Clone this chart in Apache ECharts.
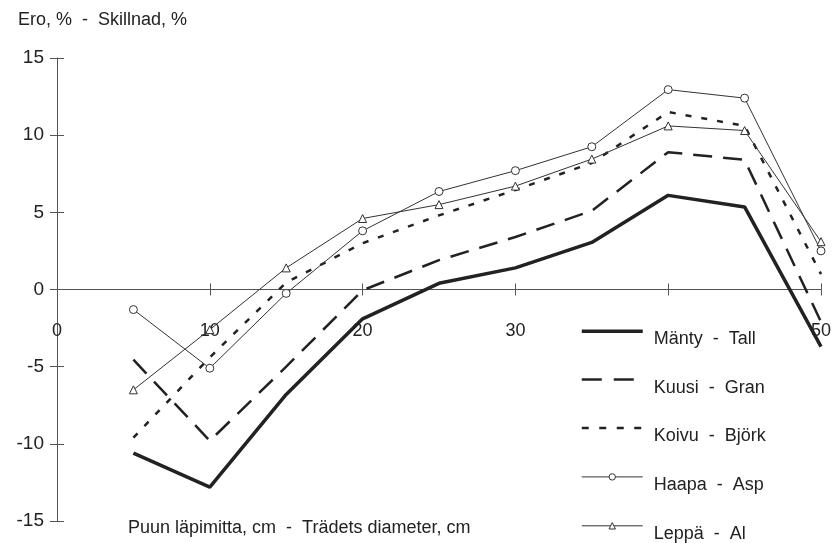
<!DOCTYPE html>
<html>
<head>
<meta charset="utf-8">
<script src="https://cdn.jsdelivr.net/npm/echarts@6/dist/echarts.min.js"></script>
<style>
  html, body { margin: 0; padding: 0; background: #fff; }
  #chart { width: 840px; height: 543px; }
</style>
</head>
<body>
<div id="chart"></div>
<script>
// puun läpimitta, cm
var diameters = [5, 10, 15, 20, 25, 30, 35, 40, 45, 50];
// ero, %
var manty = [-10.6, -12.8, -6.8, -1.9, 0.4, 1.4, 3.05, 6.1, 5.35, -3.7];
var kuusi = [-4.55, -9.8, -5.0, -0.05, 1.9, 3.4, 5.1, 8.9, 8.4, -2.1];
var koivu = [-9.6, -4.4, 0.45, 3.0, 4.8, 6.45, 8.2, 11.5, 10.6, 1.0];
var haapa = [-1.3, -5.1, -0.25, 3.8, 6.35, 7.7, 9.25, 12.95, 12.4, 2.5];
var leppa = [-6.5, -2.6, 1.4, 4.6, 5.5, 6.7, 8.45, 10.6, 10.3, 3.1];
var seriesNames = ['Mänty  -  Tall', 'Kuusi  -  Gran', 'Koivu  -  Björk', 'Haapa  -  Asp', 'Leppä  -  Al'];
// 40 jää selitteen alle
var xTickLabels = ['0', '10', '20', '30', '', '50'];

var ink = '#222';
var font = 'Liberation Sans, Arial, sans-serif';

function pairs(vals) {
    return diameters.map(function (d, i) { return [d, vals[i]]; });
}

var myChart = echarts.init(document.getElementById('chart'));

// grid: top 58, bottom 22 -> nollataso keskellä, siirto ylöspäin
var gridTop = 58, gridBottom = 22;
var zeroShift = -(543 - gridTop - gridBottom) / 2;

var xBase = {
    type: 'value',
    min: 0,
    max: 50,
    interval: 10,
    position: 'bottom',
    offset: zeroShift,
    splitLine: { show: false }
};
var yBase = {
    type: 'value',
    min: -15,
    max: 15,
    interval: 5,
    position: 'left',
    splitLine: { show: false }
};
var symbolStyle = { color: '#fff', borderColor: '#333', borderWidth: 1 };
var hidden = { opacity: 0 };

var option = {
    animation: false,
    backgroundColor: '#fff',
    title: [{
        text: 'Ero, %  -  Skillnad, %',
        left: 13,
        top: 6,
        textStyle: { fontFamily: font, fontSize: 18, fontWeight: 'normal', color: ink }
    }, {
        text: 'Puun läpimitta, cm  -  Trädets diameter, cm',
        left: 123,
        top: 514,
        textStyle: { fontFamily: font, fontSize: 18, fontWeight: 'normal', color: ink }
    }],
    grid: { left: 57, right: 19, top: gridTop, bottom: gridBottom, outerBoundsMode: 'none', containLabel: false },
    legend: {
        orient: 'vertical',
        left: 580,
        top: 328,
        height: 280,
        padding: 0,
        itemWidth: 61,
        itemHeight: 8,
        itemGap: 28.2,
        data: [
            { name: seriesNames[0], itemStyle: hidden, lineStyle: { color: ink, width: 3.5, type: 'solid' } },
            { name: seriesNames[1], itemStyle: hidden, lineStyle: { color: ink, width: 2.5, type: [20, 12] } },
            { name: seriesNames[2], itemStyle: hidden, lineStyle: { color: ink, width: 2.5, type: [7, 10.5] } },
            { name: seriesNames[3], itemStyle: symbolStyle, lineStyle: { color: '#333', width: 1 } },
            { name: seriesNames[4], itemStyle: symbolStyle, lineStyle: { color: '#333', width: 1 } }
        ],
        formatter: function (name) { return '{t|' + name + '}'; },
        textStyle: {
            fontFamily: font, fontSize: 18, color: ink,
            rich: {
                t: { fontFamily: font, fontSize: 18, color: ink, lineHeight: 34, verticalAlign: 'bottom', padding: [0, 0, 0, 6] }
            }
        }
    },
    xAxis: [
        Object.assign({}, xBase, {
            axisLine: { show: true, onZero: false, lineStyle: { color: '#555', width: 1 } },
            axisTick: { show: true, inside: false, length: 6, lineStyle: { color: '#555' } },
            axisLabel: {
                margin: 33,
                fontFamily: font,
                fontSize: 18,
                color: ink,
                formatter: function (v) { return xTickLabels[v / 10]; }
            }
        }),
        Object.assign({}, xBase, {
            axisLine: { show: false, onZero: false },
            axisTick: { show: true, inside: true, length: 6, lineStyle: { color: '#555' } },
            axisLabel: { show: false }
        })
    ],
    yAxis: [
        Object.assign({}, yBase, {
            axisLine: { show: true, onZero: false, lineStyle: { color: '#555', width: 1 } },
            axisTick: { show: true, inside: false, length: 7, lineStyle: { color: '#555' } },
            axisLabel: { margin: 13, fontFamily: font, fontSize: 19, color: ink }
        }),
        Object.assign({}, yBase, {
            axisLine: { show: false, onZero: false },
            axisTick: { show: true, inside: true, length: 7, lineStyle: { color: '#555' } },
            axisLabel: { show: false }
        })
    ],
    series: [{
        name: seriesNames[0],
        type: 'line',
        data: pairs(manty),
        symbol: 'none',
        lineStyle: { color: ink, width: 3.5, type: 'solid' },
        itemStyle: { color: ink }
    }, {
        name: seriesNames[1],
        type: 'line',
        data: pairs(kuusi),
        symbol: 'none',
        lineStyle: { color: ink, width: 2.5, type: [19, 11] },
        itemStyle: { color: ink }
    }, {
        name: seriesNames[2],
        type: 'line',
        data: pairs(koivu),
        symbol: 'none',
        lineStyle: { color: ink, width: 2.5, type: [6, 10] },
        itemStyle: { color: ink }
    }, {
        name: seriesNames[3],
        type: 'line',
        data: pairs(haapa),
        symbol: 'circle',
        symbolSize: 8,
        lineStyle: { color: '#333', width: 1 },
        itemStyle: symbolStyle
    }, {
        name: seriesNames[4],
        type: 'line',
        data: pairs(leppa),
        symbol: 'triangle',
        symbolSize: 8,
        lineStyle: { color: '#333', width: 1 },
        itemStyle: symbolStyle
    }]
};

option && myChart.setOption(option);
</script>
</body>
</html>
